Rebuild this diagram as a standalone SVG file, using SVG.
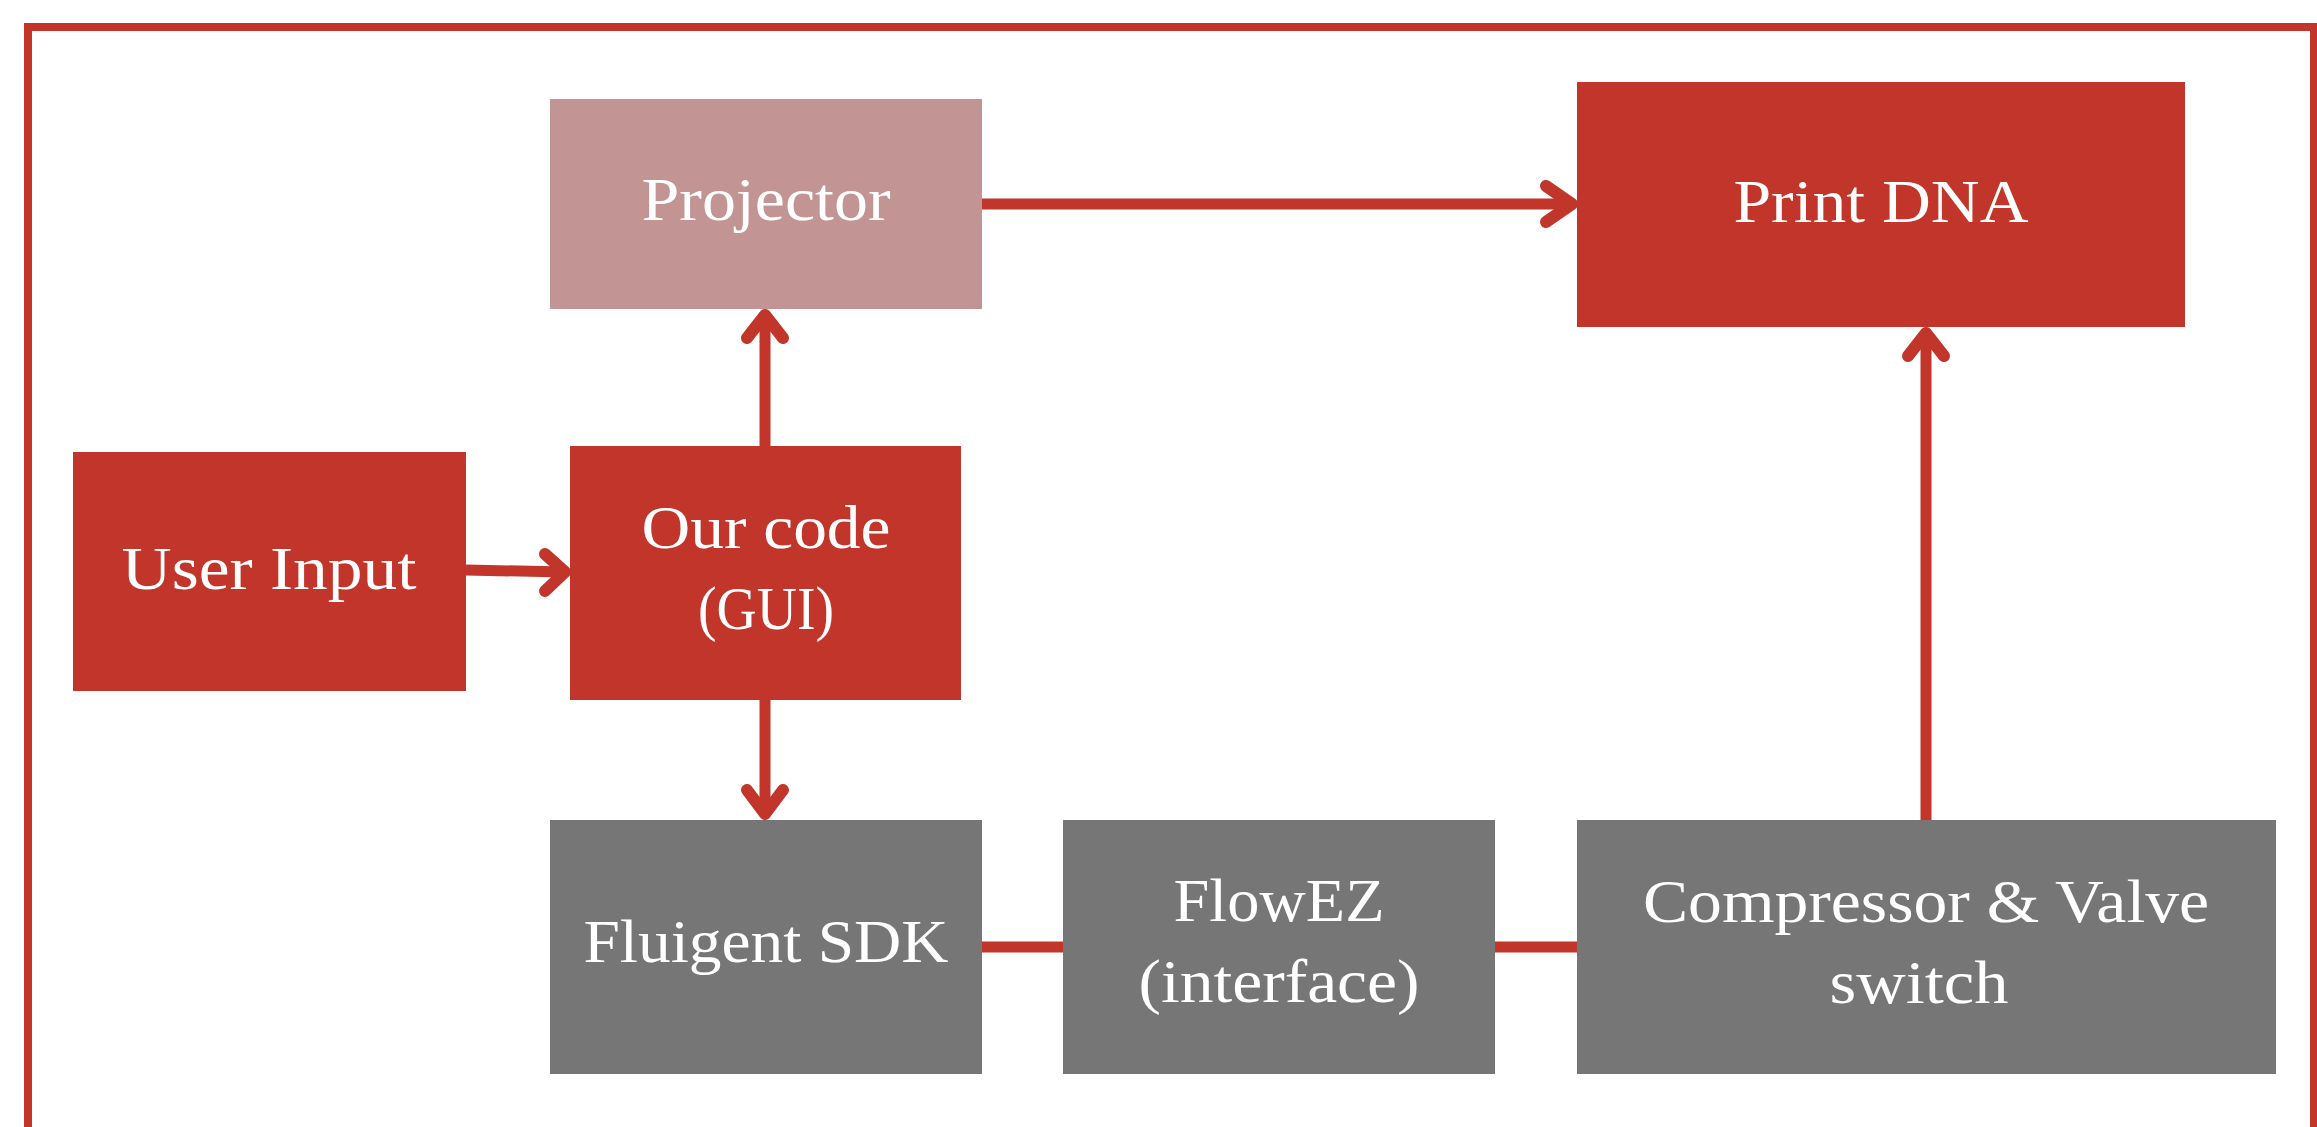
<svg xmlns="http://www.w3.org/2000/svg" width="2317" height="1127" viewBox="0 0 2317 1127">
  <style>
    .frame { fill: none; stroke: #c1352a; stroke-width: 8; }
    .red { fill: #c1352a; }
    .rose { fill: #c39494; }
    .gray { fill: #767676; }
    .label { font-family: "Liberation Serif", "Times New Roman", serif; font-size: 62px; fill: #ffffff; text-anchor: middle; }
    .wire { fill: none; stroke: #c1352a; stroke-width: 11; }
    .head { fill: none; stroke: #c1352a; stroke-width: 12; stroke-linecap: round; stroke-linejoin: round; }
  </style>

  <rect width="2317" height="1127" fill="#ffffff"/>

  <!-- outer frame, open at the bottom edge -->
  <rect class="frame" x="28" y="27" width="2286" height="1200"/>

  <!-- connectors -->
  <g id="connectors">
    <!-- Projector -> Print DNA -->
    <line class="wire" x1="982" y1="204" x2="1572" y2="204"/>
    <polyline class="head" points="1546,186 1572,204 1546,222"/>
    <!-- User Input -> Our code -->
    <line class="wire" x1="466" y1="570" x2="564" y2="572"/>
    <polyline class="head" points="545,554 565,572 545,591"/>
    <!-- Our code -> Projector -->
    <line class="wire" x1="765" y1="446" x2="765" y2="315"/>
    <polyline class="head" points="747,338 765,315 783,338"/>
    <!-- Our code -> Fluigent SDK -->
    <line class="wire" x1="765" y1="700" x2="765" y2="814"/>
    <polyline class="head" points="747,790 765,814 783,790"/>
    <!-- Fluigent SDK - FlowEZ -->
    <line class="wire" x1="982" y1="947" x2="1063" y2="947"/>
    <!-- FlowEZ - Compressor -->
    <line class="wire" x1="1495" y1="947" x2="1577" y2="947"/>
    <!-- Compressor -> Print DNA -->
    <line class="wire" x1="1926" y1="820" x2="1926" y2="333"/>
    <polyline class="head" points="1908,356 1926,333 1944,356"/>
  </g>

  <g id="projector">
    <rect class="rose" x="550" y="99" width="432" height="210"/>
    <text class="label" x="766" y="220" textLength="249" lengthAdjust="spacingAndGlyphs">Projector</text>
  </g>

  <g id="print-dna">
    <rect class="red" x="1577" y="82" width="608" height="245"/>
    <text class="label" x="1881" y="222" textLength="295" lengthAdjust="spacingAndGlyphs">Print DNA</text>
  </g>

  <g id="user-input">
    <rect class="red" x="73" y="452" width="393" height="239"/>
    <text class="label" x="269" y="589" textLength="295" lengthAdjust="spacingAndGlyphs">User Input</text>
  </g>

  <g id="our-code">
    <rect class="red" x="570" y="446" width="391" height="254"/>
    <text class="label" x="766" y="548" textLength="249" lengthAdjust="spacingAndGlyphs">Our code</text>
    <text class="label" x="766" y="629" textLength="136" lengthAdjust="spacingAndGlyphs">(GUI)</text>
  </g>

  <g id="fluigent-sdk">
    <rect class="gray" x="550" y="820" width="432" height="254"/>
    <text class="label" x="766" y="962" textLength="365" lengthAdjust="spacingAndGlyphs">Fluigent SDK</text>
  </g>

  <g id="flowez">
    <rect class="gray" x="1063" y="820" width="432" height="254"/>
    <text class="label" x="1279" y="921" textLength="211" lengthAdjust="spacingAndGlyphs">FlowEZ</text>
    <text class="label" x="1279" y="1002" textLength="281" lengthAdjust="spacingAndGlyphs">(interface)</text>
  </g>

  <g id="compressor-valve">
    <rect class="gray" x="1577" y="820" width="699" height="254"/>
    <text class="label" x="1926" y="922" textLength="566" lengthAdjust="spacingAndGlyphs">Compressor &amp; Valve</text>
    <text class="label" x="1919" y="1003" textLength="179" lengthAdjust="spacingAndGlyphs">switch</text>
  </g>
</svg>
